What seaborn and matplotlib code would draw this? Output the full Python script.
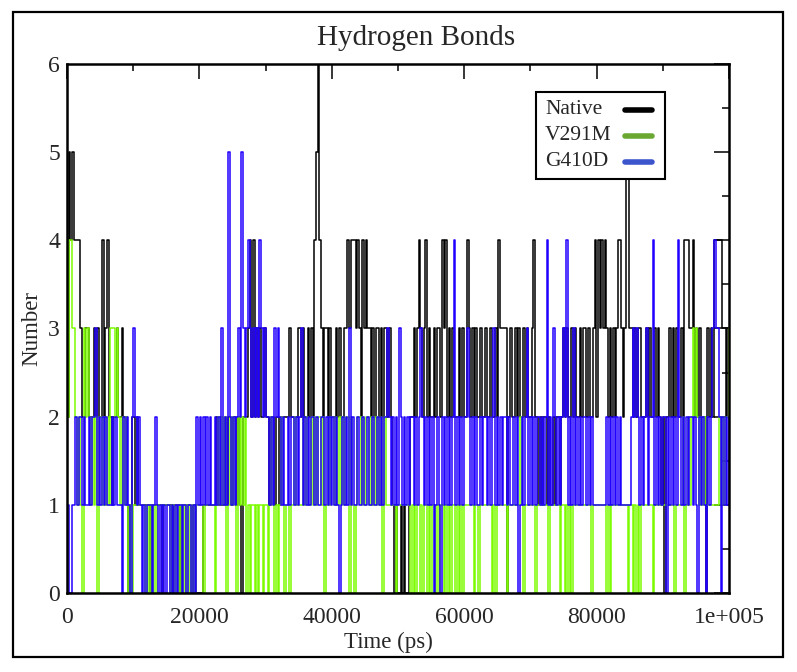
import numpy as np
import pandas as pd
import matplotlib
matplotlib.use('Agg')
import matplotlib.pyplot as plt
from matplotlib.lines import Line2D
from matplotlib.patches import Rectangle
from matplotlib.ticker import MultipleLocator
import seaborn as sns

# %%
# hydrogen bond counts, one value per ~250 ps
# (each group of 4 digits = 1 ns, each line = 10 ns)
native_hb = (
    "2545 4444 3223 3222 3232 2423 4221 2232 2322 1012"
    "2121 1111 1101 1111 1011 1110 1111 0111 1110 1100"
    "0011 1111 1121 1112 1221 2212 1022 2342 4232 3223"
    "2212 2122 1222 2232 2223 3232 2323 2456 4323 3232"
    "2232 3223 3434 4434 3243 4332 3233 2323 3232 1010"
    "0101 0012 2323 4323 4232 2323 3243 4232 3222 3232"
    "2432 3232 2322 3223 2232 4333 3023 2232 3223 2322"
    "3422 1212 2121 1212 2123 2322 3232 2323 3232 2342"
    "4343 4323 2323 4432 3553 3232 3322 2323 2232 3212"
    "0223 2323 2232 4443 3423 2322 2032 3244 4443 3233"
)
v291m_hb = (
    "2443 3212 1032 3212 1202 2121 2133 3232 1212 1010"
    "1111 1110 1010 1011 1111 1101 1010 1010 1010 1011"
    "1101 1111 1012 1212 0121 2102 1212 0101 1010 1101"
    "1012 1010 1210 1101 1211 1121 2112 1212 2120 1212"
    "2121 2121 2202 1012 2121 2212 1212 1202 1111 1101"
    "1111 1110 1010 0101 1010 1101 0110 1010 1101 0101"
    "1111 1011 0111 1111 0101 1111 1011 1111 1210 1111"
    "1101 1111 1101 1111 1011 0101 0111 1111 1111 0111"
    "1111 1010 1111 1111 1101 1010 1011 1111 1011 1111"
    "1111 1101 1112 0121 2323 2121 2111 1111 1212 1223"
)
g410d_hb = (
    "1001 1212 2121 1212 2312 1212 1112 1211 1021 2102"
    "3212 1010 1110 1210 1010 1101 0101 1011 0110 1021"
    "2121 2121 1212 1312 1521 2123 2532 3432 3232 4323"
    "2212 1323 2121 1212 2121 2312 1212 2121 1221 2121"
    "2121 0121 2131 2112 1121 1211 2112 1212 2321 2121"
    "3212 1212 2121 2321 2121 2012 1021 2121 2412 1212"
    "2321 2121 1212 2121 2312 1212 2121 1212 0121 2312"
    "1212 2121 2412 1321 2123 2412 1312 1212 2121 2111"
    "1111 1212 1212 1211 1111 2323 2121 2312 2412 1212"
    "2021 2121 4212 1212 2121 0212 1021 2343 3202 1212"
)

systems = ['Native', 'V291M', 'G410D']
line_colors = ['#000000', '#7cfc00', '#2000ff']
legend_colors = ['#000000', '#6aa832', '#3d55cc']
x_ticks = [0, 20000, 40000, 60000, 80000, 100000]
x_tick_labels = ['0', '20000', '40000', '60000', '80000', '1e+005']
y_ticks = [0, 1, 2, 3, 4, 5, 6]


def parse(s):
    return [int(c) for c in s if c.isdigit()]


series = [parse(native_hb), parse(v291m_hb), parse(g410d_hb)]

# %%
frames = []
for name, vals in zip(systems, series):
    frames.append(pd.DataFrame({
        'time': np.linspace(0, 100000, len(vals)),
        'hbonds': vals,
        'system': name,
    }))
df = pd.concat(frames, ignore_index=True)

# %%
sns.set_style('white')
plt.rcParams['font.family'] = ['Liberation Serif', 'DejaVu Serif']

fig = plt.figure(figsize=(7.97, 6.72), dpi=100)
ax = fig.add_axes([0.0841, 0.1176, 0.8306, 0.7872])

sns.lineplot(data=df, x='time', y='hbonds', hue='system', hue_order=systems,
             palette=line_colors, drawstyle='steps-post', linewidth=1.1,
             estimator=None, legend=False, ax=ax)

ax.set_xlim(0, 100000)
ax.set_ylim(0, 6)
ax.set_xticks(x_ticks, labels=x_tick_labels)
ax.set_yticks(y_ticks)
ax.xaxis.set_minor_locator(MultipleLocator(10000))
ax.yaxis.set_minor_locator(MultipleLocator(0.5))
ax.tick_params(which='both', direction='in', top=True, right=True,
               width=1.1, color='black', labelsize=17)
ax.tick_params(which='major', length=11)
ax.tick_params(which='minor', length=5)
ax.tick_params(axis='x', pad=10)
ax.tick_params(axis='y', pad=5)
for sp in ax.spines.values():
    sp.set_linewidth(1.8)
    sp.set_color('black')

fig.text(0.522, 0.933, 'Hydrogen Bonds', fontsize=21, ha='center', va='baseline')
ax.set_xlabel('Time (ps)', fontsize=16.5, labelpad=3)
ax.xaxis.label.set_x(0.485)
ax.set_ylabel('Number', fontsize=16.5, labelpad=4)

# legend box drawn by hand: text left, colour bar on the right
ax.add_patch(Rectangle((0.7085, 0.7826), 0.1948, 0.1644, transform=ax.transAxes,
                       facecolor='white', edgecolor='black', lw=1.5, zorder=5))
for i, (name, col) in enumerate(zip(systems, legend_colors)):
    yy = 0.913 - i * 0.049
    ax.text(0.722, yy, name, transform=ax.transAxes, fontsize=15.5,
            va='center', ha='left', zorder=6)
    ax.add_line(Line2D([0.843, 0.884], [yy, yy], transform=ax.transAxes,
                       color=col, lw=4, zorder=6))

fig.patches.append(Rectangle((0.0163, 0.0223), 0.9661, 0.9598, transform=fig.transFigure,
                             fill=False, lw=1.6, edgecolor='black'))

fig.savefig('out.png', dpi=100)
